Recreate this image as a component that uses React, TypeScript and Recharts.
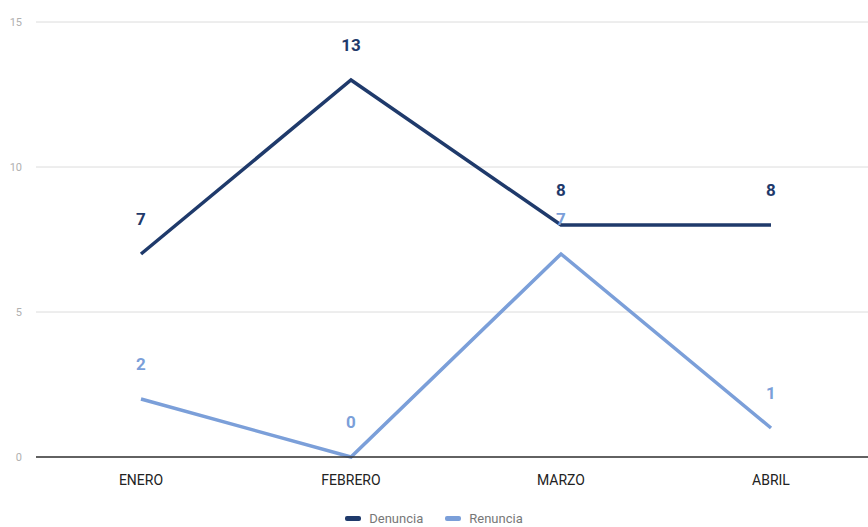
import { LineChart, Line, XAxis, YAxis, CartesianGrid, Legend, LabelList } from 'recharts'

const months = ['ENERO', 'FEBRERO', 'MARZO', 'ABRIL']
const denuncia = [7, 13, 8, 8]
const renuncia = [2, 0, 7, 1]
const yTicks = [0, 5, 10, 15]

const data = months.map((m, i) => ({ month: m, Denuncia: denuncia[i], Renuncia: renuncia[i] }))

const DARK = '#1f3a6b'
const LIGHT = '#7b9fd9'

const series = [
  { name: 'Denuncia', color: DARK },
  { name: 'Renuncia', color: LIGHT },
]

function LegendBox() {
  return (
    <div style={{ display: 'flex', justifyContent: 'center', gap: 22, fontSize: 13, color: '#777' }}>
      {series.map((s) => (
        <span key={s.name} style={{ display: 'flex', alignItems: 'center', gap: 8 }}>
          <span style={{ width: 16, height: 5, borderRadius: 2, background: s.color, display: 'inline-block' }} />
          {s.name}
        </span>
      ))}
    </div>
  )
}

export default function App() {
  return (
    <div style={{ position: 'absolute', left: 0, top: 0, background: '#fff', fontFamily: 'Roboto, sans-serif' }}>
      <LineChart width={868} height={527} data={data} margin={{ top: 22, right: 0, bottom: 0, left: 0 }}>
        <CartesianGrid vertical={false} stroke="#dcdcdc" />
        <XAxis
          dataKey="month"
          axisLine={{ stroke: '#333', strokeWidth: 1.5 }}
          tickLine={false}
          tick={{ fill: '#222', fontSize: 14 }}
          height={32}
          tickMargin={12}
          padding={{ left: 105, right: 97 }}
        />
        <YAxis
          domain={[0, 15]}
          ticks={yTicks}
          axisLine={false}
          tickLine={false}
          width={36}
          tick={{ fill: '#b0b0b0', fontSize: 11 }}
          tickMargin={8}
        />
        <Legend
          verticalAlign="bottom"
          height={38}
          content={<LegendBox />}
          wrapperStyle={{ top: 511, bottom: 'auto' }}
        />
        <Line type="linear" dataKey="Denuncia" stroke={DARK} strokeWidth={3.5} dot={false} isAnimationActive={false}>
          <LabelList dataKey="Denuncia" position="top" offset={29} fill={DARK} fontSize={17} fontWeight="bold" />
        </Line>
        <Line type="linear" dataKey="Renuncia" stroke={LIGHT} strokeWidth={3.5} dot={false} isAnimationActive={false}>
          <LabelList dataKey="Renuncia" position="top" offset={29} fill={LIGHT} fontSize={17} fontWeight="bold" />
        </Line>
      </LineChart>
    </div>
  )
}
